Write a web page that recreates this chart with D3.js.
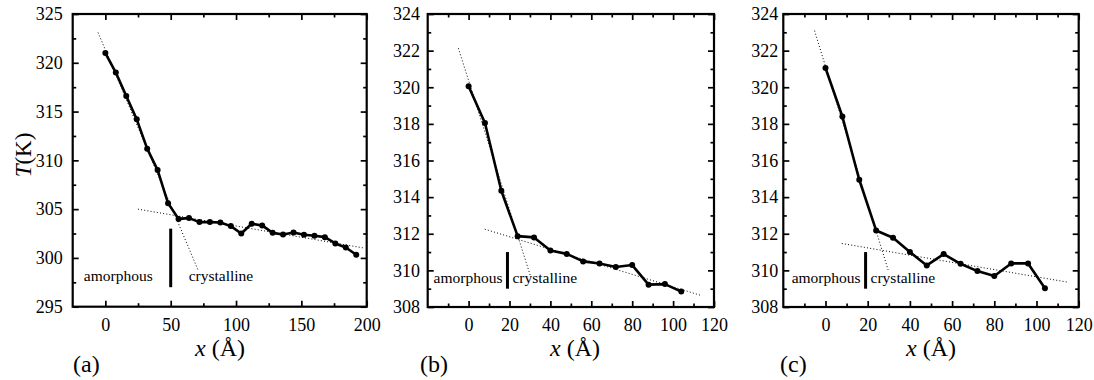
<!DOCTYPE html>
<html>
<head>
<meta charset="utf-8">
<script src="https://cdn.jsdelivr.net/npm/d3@7"></script>
<style>
  body { margin: 0; background: #fff; }
</style>
</head>
<body>
<div id="chart"></div>
<script>
// Podatki: položaj x (Å) in temperatura T (K)
const xA = [0, 8, 16, 24, 32, 40, 48, 56, 64, 72, 80, 88, 96, 104, 112, 120, 128, 136, 144, 152, 160, 168, 176, 184, 192];
const tA = [321.0, 319.0, 316.6, 314.2, 311.2, 309.0, 305.6, 304.0, 304.08, 303.67, 303.67, 303.63, 303.26, 302.5, 303.5, 303.33, 302.57, 302.4, 302.6, 302.37, 302.27, 302.13, 301.48, 301.07, 300.32];

const xB = [0, 8, 16, 24, 32, 40, 48, 56, 64, 72, 80, 88, 96, 104];
const tB = [320.05, 318.05, 314.35, 311.87, 311.8, 311.09, 310.9, 310.49, 310.38, 310.18, 310.29, 309.22, 309.25, 308.84];

const xC = [0, 8, 16, 24, 32, 40, 48, 56, 64, 72, 80, 88, 96, 104];
const tC = [321.05, 318.4, 314.95, 312.18, 311.78, 311.0, 310.27, 310.89, 310.36, 309.96, 309.69, 310.38, 310.38, 309.02];

// Prileganja (pikčaste premice): [x1, T1, x2, T2]
const fitA = [[-5.6, 323.1, 70.8, 298.8], [24.9, 305.0, 198.5, 301.0]];
const fitB = [[-5.0, 322.13, 30.2, 309.71], [7.9, 312.25, 113.4, 308.64]];
const fitC = [[-5.2, 323.09, 29.7, 310.02], [7.7, 311.47, 115.1, 309.35]];

// Meja amorfno/kristalno: [x, T spodaj, T zgoraj]
const borderA = [50, 297, 303];
const borderB = [19, 309, 311];
const borderC = [19, 309, 311];

// Oznake osi
const xTicksA = [0, 50, 100, 150, 200];
const xMinorA = [25, 75, 125, 175];
const yTicksA = [295, 300, 305, 310, 315, 320, 325];
const yMinorA = [297.5, 302.5, 307.5, 312.5, 317.5, 322.5];
const xTicksBC = [0, 20, 40, 60, 80, 100, 120];
const xMinorBC = [-10, 10, 30, 50, 70, 90, 110];
const yTicksBC = [308, 310, 312, 314, 316, 318, 320, 322, 324];
const yMinorBC = [309, 311, 313, 315, 317, 319, 321, 323];

const FONT = "'Liberation Serif', 'Times New Roman', serif";

const svg = d3.select("#chart")
    .append("svg")
    .attr("width", 1094)
    .attr("height", 380)
    .style("font-family", FONT);

svg.append("rect").attr("width", 1094).attr("height", 380).attr("fill", "#fff");

function drawPanel(p) {
    const x = d3.scaleLinear().domain(p.xDomain).range([p.left, p.right]);
    const y = d3.scaleLinear().domain(p.yDomain).range([p.bottom, p.top]);
    const g = svg.append("g");

    // Glavne in pomožne oznake na vseh štirih straneh (navznoter)
    const addAxis = (axis, transform, labels) => {
        const a = g.append("g").attr("transform", transform).call(axis);
        a.attr("font-family", null).attr("font-size", null);
        a.select(".domain").remove();
        a.selectAll("line").attr("stroke", "#000").attr("stroke-width", 1.7);
        if (!labels) a.selectAll("text").remove();
        a.selectAll("text").attr("fill", "#000").style("font-family", FONT).style("font-size", "18px");
        return a;
    };

    const bottom = addAxis(d3.axisBottom(x).tickValues(p.xTicks).tickSize(-6).tickFormat(d3.format("d")),
        `translate(0,${p.bottom})`, true);
    bottom.selectAll("text").attr("y", 24).attr("dy", null);
    addAxis(d3.axisBottom(x).tickValues(p.xMinor).tickSize(-3.5), `translate(0,${p.bottom})`, false);
    addAxis(d3.axisTop(x).tickValues(p.xTicks).tickSize(-6), `translate(0,${p.top})`, false);
    addAxis(d3.axisTop(x).tickValues(p.xMinor).tickSize(-3.5), `translate(0,${p.top})`, false);

    const left = addAxis(d3.axisLeft(y).tickValues(p.yTicks).tickSize(-6).tickFormat(d3.format("d")),
        `translate(${p.left},0)`, true);
    left.selectAll("text").attr("x", -p.labelGap).attr("dy", "0.32em");
    addAxis(d3.axisLeft(y).tickValues(p.yMinor).tickSize(-3.5), `translate(${p.left},0)`, false);
    addAxis(d3.axisRight(y).tickValues(p.yTicks).tickSize(-6), `translate(${p.right},0)`, false);
    addAxis(d3.axisRight(y).tickValues(p.yMinor).tickSize(-3.5), `translate(${p.right},0)`, false);

    // Okvir
    g.append("rect")
        .attr("x", p.left).attr("y", p.top)
        .attr("width", p.right - p.left).attr("height", p.bottom - p.top)
        .attr("fill", "none").attr("stroke", "#000").attr("stroke-width", 2.2);

    // Pikčaste premice
    g.selectAll(".fit")
        .data(p.fits)
        .enter()
        .append("line")
        .attr("x1", d => x(d[0])).attr("y1", d => y(d[1]))
        .attr("x2", d => x(d[2])).attr("y2", d => y(d[3]))
        .attr("stroke", "#000").attr("stroke-width", 1)
        .attr("stroke-dasharray", "1 2.2");

    // Meja
    g.append("line")
        .attr("x1", x(p.border[0])).attr("x2", x(p.border[0]))
        .attr("y1", y(p.border[1])).attr("y2", y(p.border[2]))
        .attr("stroke", "#000").attr("stroke-width", 3);

    g.append("text")
        .attr("x", x(p.border[0]) - p.textGap).attr("y", p.textY)
        .attr("text-anchor", "end").style("font-size", "15.5px")
        .text("amorphous");
    g.append("text")
        .attr("x", x(p.border[0]) + p.textGap).attr("y", p.textY)
        .attr("text-anchor", "start").style("font-size", "15.5px")
        .text("crystalline");

    // Krivulja in točke
    const pts = p.xs.map((v, i) => [v, p.ts[i]]);
    g.append("path")
        .datum(pts)
        .attr("d", d3.line().x(d => x(d[0])).y(d => y(d[1])))
        .attr("fill", "none").attr("stroke", "#000")
        .attr("stroke-width", 2.6).attr("stroke-linejoin", "round");
    g.selectAll(".pt")
        .data(pts)
        .enter()
        .append("circle")
        .attr("cx", d => x(d[0])).attr("cy", d => y(d[1]))
        .attr("r", 3).attr("fill", "#000");

    // Naslov osi x in oznaka panela
    const xt = g.append("text")
        .attr("x", p.xTitleX).attr("y", 356)
        .attr("text-anchor", "middle").style("font-size", "24px");
    xt.append("tspan").style("font-style", "italic").text("x");
    xt.append("tspan").text(" (Å)");

    g.append("text")
        .attr("x", p.tagX).attr("y", 372)
        .style("font-size", "24px")
        .text(p.tag);
}

drawPanel({
    left: 72.7, right: 366.7, top: 14, bottom: 306.7,
    xDomain: [-25, 200], yDomain: [295, 325],
    xTicks: xTicksA, xMinor: xMinorA, yTicks: yTicksA, yMinor: yMinorA,
    xs: xA, ts: tA, fits: fitA, border: borderA,
    labelGap: 10, textGap: 18, textY: 281,
    xTitleX: 220, tagX: 73, tag: "(a)"
});

drawPanel({
    left: 427.7, right: 714, top: 14, bottom: 307,
    xDomain: [-20, 120], yDomain: [308, 324],
    xTicks: xTicksBC, xMinor: xMinorBC, yTicks: yTicksBC, yMinor: yMinorBC,
    xs: xB, ts: tB, fits: fitB, border: borderB,
    labelGap: 7.7, textGap: 5, textY: 283,
    xTitleX: 575, tagX: 420, tag: "(b)"
});

drawPanel({
    left: 783.3, right: 1078.7, top: 14, bottom: 307,
    xDomain: [-20, 120], yDomain: [308, 324],
    xTicks: xTicksBC, xMinor: xMinorBC, yTicks: yTicksBC, yMinor: yMinorBC,
    xs: xC, ts: tC, fits: fitC, border: borderC,
    labelGap: 5, textGap: 5, textY: 283,
    xTitleX: 931, tagX: 780, tag: "(c)"
});

// Naslov osi y
const yt = svg.append("text")
    .attr("transform", "translate(31,155) rotate(-90)")
    .attr("text-anchor", "middle")
    .style("font-size", "23px");
yt.append("tspan").style("font-style", "italic").text("T");
yt.append("tspan").text("(K)");
</script>
</body>
</html>
